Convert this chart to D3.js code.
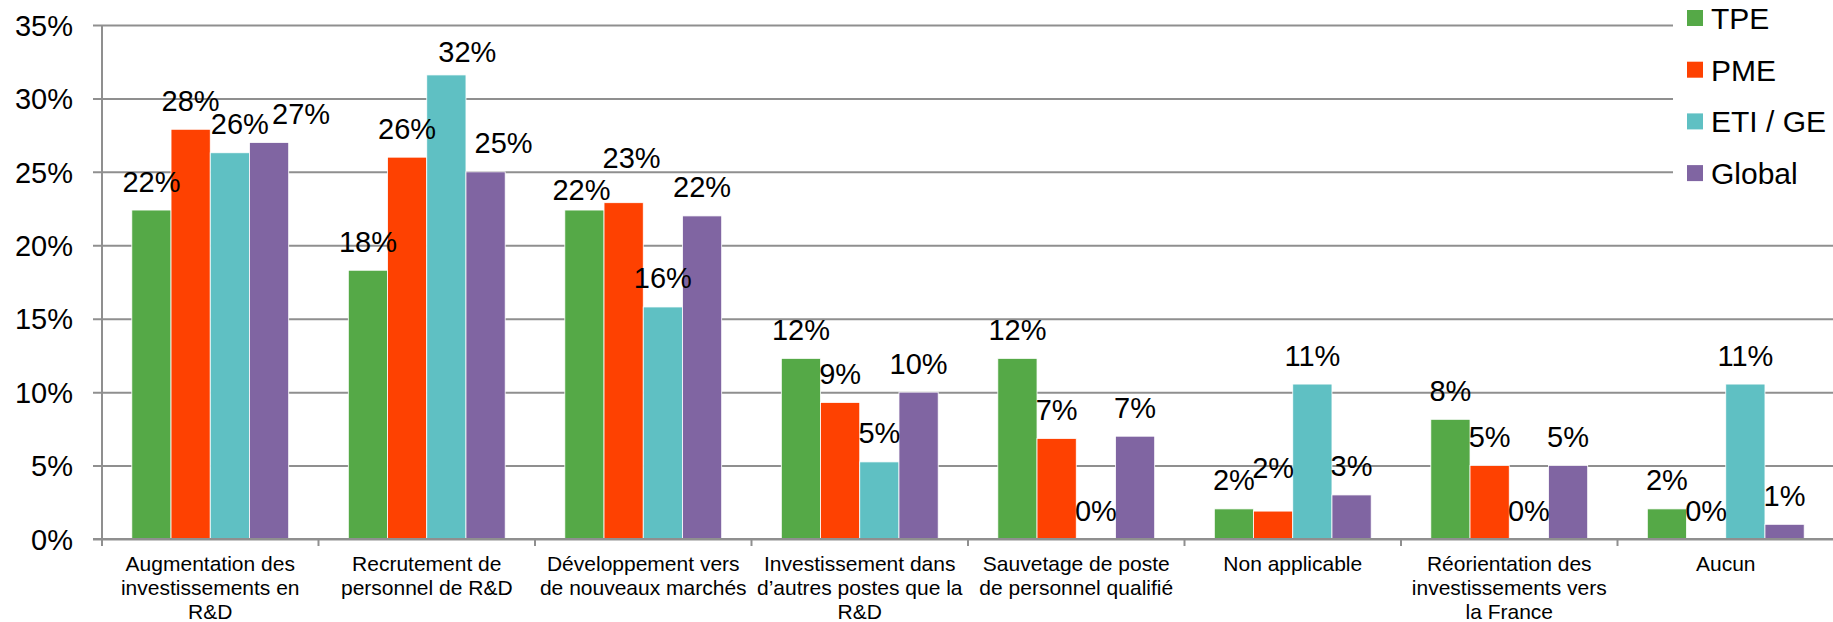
<!DOCTYPE html>
<html>
<head>
<meta charset="utf-8">
<script src="https://cdn.jsdelivr.net/npm/d3@7"></script>
<style>
  body { margin: 0; background: #fff; }
  text { font-family: "Liberation Sans", Arial, sans-serif; fill: #000; }
</style>
</head>
<body>
<div class="chart"></div>
<script>
var svgWidth = 1833;
var svgHeight = 622;

// Categories (x axis labels, already split into lines)
var categories = [
  ["Augmentation des", "investissements en", "R&D"],
  ["Recrutement de", "personnel de R&D"],
  ["Développement vers", "de nouveaux marchés"],
  ["Investissement dans", "d\u2019autres postes que la", "R&D"],
  ["Sauvetage de poste", "de personnel qualifié"],
  ["Non applicable"],
  ["Réorientation des", "investissements vers", "la France"],
  ["Aucun"]
];

var seriesNames = ["TPE", "PME", "ETI / GE", "Global"];
var seriesColors = ["#55a947", "#fe4101", "#5fc0c3", "#8065a2"];

// values in %
var tpe    = [22.4, 18.3, 22.4, 12.3, 12.3, 2.05, 8.15, 2.05];
var pme    = [27.9, 26.0, 22.9, 9.3, 6.85, 1.9, 5.0, 0];
var etiGe  = [26.3, 31.6, 15.8, 5.25, 0, 10.55, 0, 10.55];
var global = [27.0, 25.0, 22.0, 10.0, 7.0, 3.0, 5.0, 1.0];

var yTicks = [0, 5, 10, 15, 20, 25, 30, 35];

var seriesValues = [tpe, pme, etiGe, global];

// labels that were moved by hand in the original (category, series, dx, dy)
var labelNudges = [
  [0, 2, 10, 0], [0, 3, 32, 0],
  [1, 2, 21, 6], [1, 3, 18, 0],
  [2, 0, -3, 8], [2, 1, 8, -16],
  [5, 1, 0, -15]
];

var margin = { left: 102, right: 1834, top: 25, bottom: 539 };

var svg = d3.select(".chart")
  .append("svg")
  .attr("width", svgWidth)
  .attr("height", svgHeight);

var catIdx = categories.map((c, i) => i);

var x0 = d3.scaleBand()
  .domain(catIdx)
  .range([margin.left, margin.right])
  .padding(0);

var x1 = d3.scaleBand()
  .domain(d3.range(seriesNames.length))
  .range([0, x0.bandwidth()])
  .paddingInner(0)
  .paddingOuter(0.76);

var y = d3.scaleLinear()
  .domain([0, 35])
  .range([margin.bottom, margin.top]);

function nudge(c, k) {
  var n = labelNudges.find(a => a[0] === c && a[1] === k);
  return n ? [n[2], n[3]] : [0, 0];
}

// gridlines + y axis
var leftAxis = d3.axisLeft(y)
  .tickValues(yTicks)
  .tickSize(0)
  .tickFormat(d => d + "%");

var gy = svg.append("g")
  .attr("transform", `translate(${margin.left}, 0)`)
  .call(leftAxis);
gy.select(".domain").remove();
gy.selectAll(".tick line")
  .attr("x1", -9)
  .attr("x2", margin.right - margin.left)
  .attr("stroke", "#8f8f8f")
  .attr("stroke-width", 2);
gy.selectAll(".tick text")
  .attr("x", -29)
  .attr("dy", "0.35em")
  .style("font-size", "29px")
  .style("font-family", "Liberation Sans, Arial, sans-serif")
  .attr("fill", "#000");

// y axis line
svg.append("line")
  .attr("x1", margin.left).attr("x2", margin.left)
  .attr("y1", y(35)).attr("y2", margin.bottom + 6)
  .attr("stroke", "#8f8f8f")
  .attr("stroke-width", 2);

// bars
var groups = svg.selectAll(".cat")
  .data(catIdx)
  .enter()
  .append("g")
  .attr("class", "cat")
  .attr("transform", d => `translate(${x0(d)}, 0)`);

groups.selectAll("rect")
  .data(c => seriesValues.map((s, k) => ({c: c, k: k, v: s[c]})))
  .enter()
  .append("rect")
  .attr("x", d => x1(d.k))
  .attr("width", x1.bandwidth())
  .attr("y", d => y(d.v))
  .attr("height", d => margin.bottom - y(d.v))
  .attr("fill", d => seriesColors[d.k])
  .attr("stroke", "#fff")
  .attr("stroke-width", d => d.v > 0 ? 0.8 : 0);

// data labels
groups.selectAll(".lbl")
  .data(c => seriesValues.map((s, k) => ({c: c, k: k, v: s[c]})))
  .enter()
  .append("text")
  .attr("class", "lbl")
  .attr("x", d => x1(d.k) + x1.bandwidth() / 2 + nudge(d.c, d.k)[0])
  .attr("y", d => y(d.v) - 18.5 + nudge(d.c, d.k)[1])
  .attr("text-anchor", "middle")
  .style("font-size", "29px")
  .text(d => Math.round(d.v) + "%");

// x axis line + ticks
svg.append("line")
  .attr("x1", margin.left - 9).attr("x2", svgWidth)
  .attr("y1", margin.bottom).attr("y2", margin.bottom)
  .attr("stroke", "#8f8f8f")
  .attr("stroke-width", 2);

svg.selectAll(".xtick")
  .data(catIdx.concat([categories.length]))
  .enter()
  .append("line")
  .attr("class", "xtick")
  .attr("x1", d => margin.left + d * x0.step())
  .attr("x2", d => margin.left + d * x0.step())
  .attr("y1", margin.bottom)
  .attr("y2", margin.bottom + 7)
  .attr("stroke", "#8f8f8f")
  .attr("stroke-width", 2);

// category labels
var catLabels = svg.selectAll(".catlbl")
  .data(catIdx)
  .enter()
  .append("text")
  .attr("class", "catlbl")
  .attr("text-anchor", "middle")
  .attr("transform", d => `translate(${x0(d) + x0.bandwidth() / 2}, 571)`)
  .style("font-size", "21px");

catLabels.selectAll("tspan")
  .data(d => categories[d])
  .enter()
  .append("tspan")
  .attr("x", 0)
  .attr("y", (d, i) => i * 24)
  .text(d => d);

// legend
var legend = svg.append("g");
legend.append("rect")
  .attr("x", 1673).attr("y", 0)
  .attr("width", svgWidth - 1673).attr("height", 200)
  .attr("fill", "#fff");

var items = legend.selectAll(".leg")
  .data(seriesNames)
  .enter()
  .append("g")
  .attr("class", "leg")
  .attr("transform", (d, i) => `translate(1687, ${18 + i * 51.7})`);

items.append("rect")
  .attr("x", 0).attr("y", -8)
  .attr("width", 16).attr("height", 16)
  .attr("fill", (d, i) => seriesColors[i]);

items.append("text")
  .attr("x", 24)
  .attr("y", 11)
  .style("font-size", "30px")
  .text(d => d);
</script>
</body>
</html>
